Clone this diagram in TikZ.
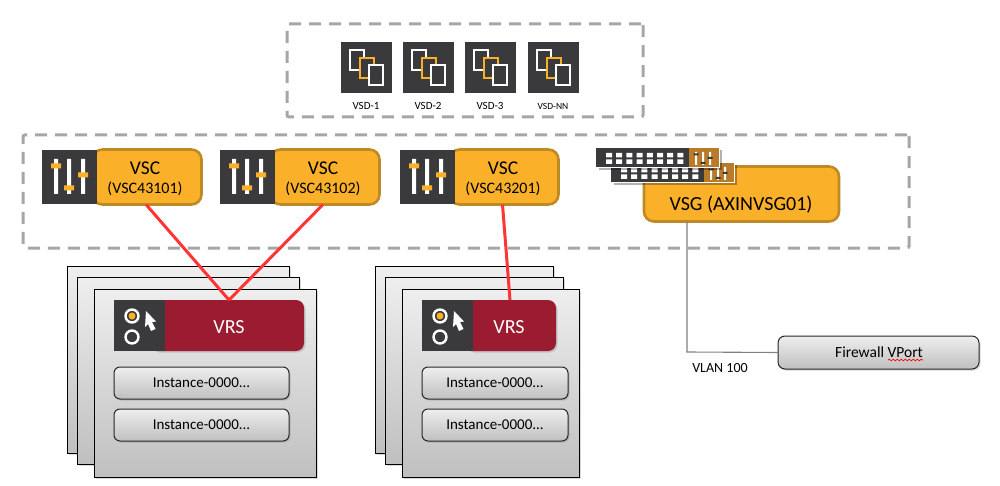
\documentclass[tikz,border=0pt]{standalone}
\usepackage{fontspec}
\setmainfont{Carlito}
\usetikzlibrary{shadows,decorations.pathmorphing}
\definecolor{icondark}{HTML}{3A3A3C}
\definecolor{vscorange}{HTML}{FBB02A}
\definecolor{vscedge}{HTML}{BF8A26}
\definecolor{switchbrown}{HTML}{B97B2A}
\definecolor{vrsred}{HTML}{9B1B30}
\definecolor{dashgray}{HTML}{A6A6A6}
\definecolor{linkred}{HTML}{FF3535}
\newcommand{\px}[1]{\fontsize{#1}{#1}\selectfont}
\tikzset{
softshadow/.style={drop shadow={shadow xshift=1.5pt, shadow yshift=-1.5pt, opacity=.3}},
dashbox/.style={draw=dashgray, line width=3pt, dash pattern=on 12pt off 8pt, rounded corners=2pt, inner sep=0pt, outer sep=0pt},
vscbox/.style={draw=vscedge, fill=vscorange, line width=2.6pt, rounded corners=10pt, inner sep=0pt, outer sep=0pt, minimum height=55pt},
vrsbox/.style={fill=vrsred, text=white, rounded corners=8pt, inner sep=0pt, outer sep=0pt, minimum height=51pt, softshadow},
serverbox/.style={draw=black, line width=1pt, top color=gray!13, bottom color=gray!50, inner sep=0pt, outer sep=0pt, minimum height=187pt, softshadow},
instancebox/.style={draw=black!85, line width=1pt, rounded corners=6pt, top color=gray!13, bottom color=gray!50, inner sep=0pt, outer sep=0pt, minimum height=32pt, softshadow, font=\px{15}},
textlabel/.style={draw=none, inner sep=0pt, align=center},
redlink/.style={draw=linkred, line width=3pt},
graylink/.style={draw=gray, line width=1.1pt},
% icon of three sheets
vsd icon/.pic={
    \fill[icondark] (0,0) rectangle (51,51);
    \draw[white, line width=2.4pt] (9,8) rectangle (23,28);
    \draw[vscorange, fill=icondark, line width=2.4pt] (19,16) rectangle (33,36);
    \draw[white, fill=icondark, line width=2.4pt] (28,23) rectangle (42,43);
},
% icon of three sliders
vsc icon/.pic={
    \fill[icondark] (0,0) rectangle (55,54);
    \fill[white] (12,9) rectangle (16,44) (25,9) rectangle (29,44) (39,9) rectangle (43,44);
    \fill[vscorange] (9,13.5) rectangle (19,18.5) (22,35.5) rectangle (32,40.5) (36,22.5) rectangle (46,27.5);
},
% icon of two radio buttons and a pointer
vrs icon/.pic={
    \fill[icondark] (0,0) rectangle (51,51);
    \draw[white, line width=2.4pt] (18,16) circle (6.5) (18,37) circle (6.5);
    \fill[vscorange] (18,16) circle (3.5);
    \fill[white] (32,11) -- (42,21.5) -- (38,22) -- (41.5,29) -- (37,31) -- (34,24) -- (31,27) -- cycle;
},
% switch with ports and small sliders
switch icon/.pic={
    \fill[black, opacity=.3] (2.5,2.5) rectangle (125.5,22);
    \fill[white] (-.5,-.5) rectangle (123.5,20);
    \fill[icondark] (0,0) rectangle (93,19.5);
    \fill[switchbrown] (93,0) rectangle (123,19.5);
    \fill[white] (10,5) rectangle (16,9.5) (20.2,5) rectangle (26.2,9.5) (30.4,5) rectangle (36.4,9.5) (40.6,5) rectangle (46.6,9.5) (50.8,5) rectangle (56.8,9.5) (61,5) rectangle (67,9.5) (71.2,5) rectangle (77.2,9.5) (81.4,5) rectangle (87.4,9.5);
    \fill[white] (10,11.5) rectangle (16,16) (20.2,11.5) rectangle (26.2,16) (30.4,11.5) rectangle (36.4,16) (40.6,11.5) rectangle (46.6,16) (50.8,11.5) rectangle (56.8,16) (61,11.5) rectangle (67,16) (71.2,11.5) rectangle (77.2,16) (81.4,11.5) rectangle (87.4,16);
    \fill[white] (99,4) rectangle (101,17) (106,4) rectangle (108,17) (113,4) rectangle (115,17);
    \fill[icondark] (97.5,5.5) rectangle (102.5,7.5) (104.5,14) rectangle (109.5,16) (111.5,9) rectangle (116.5,11);
},
}
\begin{document}
\begin{tikzpicture}[x=1pt, y=-1pt]
        \useasboundingbox (0,0) rectangle (1000,486);
        \node[dashbox, minimum width=356pt, minimum height=93pt] at (465,70.5) (vsdarea) {};
        \node[dashbox, minimum width=886pt, minimum height=113pt] at (466,191.5) (ctrlarea) {};
        \pic at (341,42) {vsd icon};
        \pic at (403,42) {vsd icon};
        \pic at (465,42) {vsd icon};
        \pic at (528,42) {vsd icon};
        \node[textlabel, font=\px{11}] at (366,106) (vsd1) {VSD-1};
        \node[textlabel, font=\px{11}] at (428,106) (vsd2) {VSD-2};
        \node[textlabel, font=\px{11}] at (490,106) (vsd3) {VSD-3};
        \node[textlabel, font=\px{9.5}] at (553,106) (vsdn) {VSD-NN};
        % controllers
        \node[vscbox, minimum width=109pt] at (147,177) (vsc1) {};
        \node[vscbox, minimum width=109pt] at (325,177) (vsc2) {};
        \node[vscbox, minimum width=109pt] at (504,177) (vsc3) {};
        \pic at (42,150) {vsc icon};
        \pic at (220,150) {vsc icon};
        \pic at (400,150) {vsc icon};
        \node[textlabel, font=\px{19.5}] at (145,168) (vsc1a) {VSC};
        \node[textlabel, font=\px{16}] at (145,189) (vsc1b) {(VSC43101)};
        \node[textlabel, font=\px{19.5}] at (323,168) (vsc2a) {VSC};
        \node[textlabel, font=\px{16}] at (323,189) (vsc2b) {(VSC43102)};
        \node[textlabel, font=\px{19.5}] at (503,168) (vsc3a) {VSC};
        \node[textlabel, font=\px{16}] at (503,189) (vsc3b) {(VSC43201)};
        % gateway
        \node[vscbox, minimum width=195pt] at (741.5,194) (vsg) {};
        \node[textlabel, font=\px{20}] at (741,205) (vsgtext) {VSG (AXINVSG01)};
        \pic at (611,163) {switch icon};
        \pic at (596,148) {switch icon};
        % first stack
        \node[serverbox, minimum width=222pt] at (178,360) (srv1c) {};
        \node[serverbox, minimum width=222pt] at (188,370.5) (srv1b) {};
        \node[serverbox, minimum width=222pt, minimum height=188pt] at (205,383) (srv1a) {};
        \node[vrsbox, minimum width=154pt] at (227,325.5) (vrs1) {};
        \pic at (114,300) {vrs icon};
        \node[textlabel, font=\px{20}, text=white] at (229,327) (vrs1text) {VRS};
        \node[instancebox, minimum width=175pt] at (201.5,383) (inst1a) {Instance-0000...};
        \node[instancebox, minimum width=175pt] at (201.5,425) (inst1b) {Instance-0000...};
        % second stack
        \node[serverbox, minimum width=178pt] at (464,360) (srv2c) {};
        \node[serverbox, minimum width=178pt] at (474,370.5) (srv2b) {};
        \node[serverbox, minimum width=177pt, minimum height=188pt] at (490.5,383) (srv2a) {};
        \node[vrsbox, minimum width=91pt] at (510.5,325.5) (vrs2) {};
        \pic at (422,300) {vrs icon};
        \node[textlabel, font=\px{20}, text=white] at (509,327) (vrs2text) {VRS};
        \node[instancebox, minimum width=146pt] at (495,383) (inst2a) {Instance-0000...};
        \node[instancebox, minimum width=146pt] at (495,425) (inst2b) {Instance-0000...};
        % firewall
        \node[instancebox, minimum width=201pt, minimum height=33pt, rounded corners=7pt] at (878.5,352.5) (fw) {};
        \node[textlabel, font=\px{15.5}] at (879,352) (fwtext) {Firewall VPort};
        \node[textlabel, font=\px{14}] at (720,368) (vlan) {VLAN 100};
        \coordinate (bend) at (687,352);
        \coordinate (wave1) at (888,360);
        \coordinate (wave2) at (923,360);
        \draw
        ([xshift=-1pt]vsc1.south) edge[redlink] ([xshift=2pt]vrs1.north)
        ([xshift=-2pt]vsc2.south) edge[redlink] ([xshift=2pt]vrs1.north)
        ([xshift=-1.5pt]vsc3.south) edge[redlink] ([xshift=-.5pt]vrs2.north)
        ;
        \draw[graylink] (vsg.south -| bend) -- (bend) -- (fw.west);
        \draw[red, line width=.7pt, decorate, decoration={snake, amplitude=.8pt, segment length=4pt}] (wave1) -- (wave2);
    \end{tikzpicture}
\end{document}
